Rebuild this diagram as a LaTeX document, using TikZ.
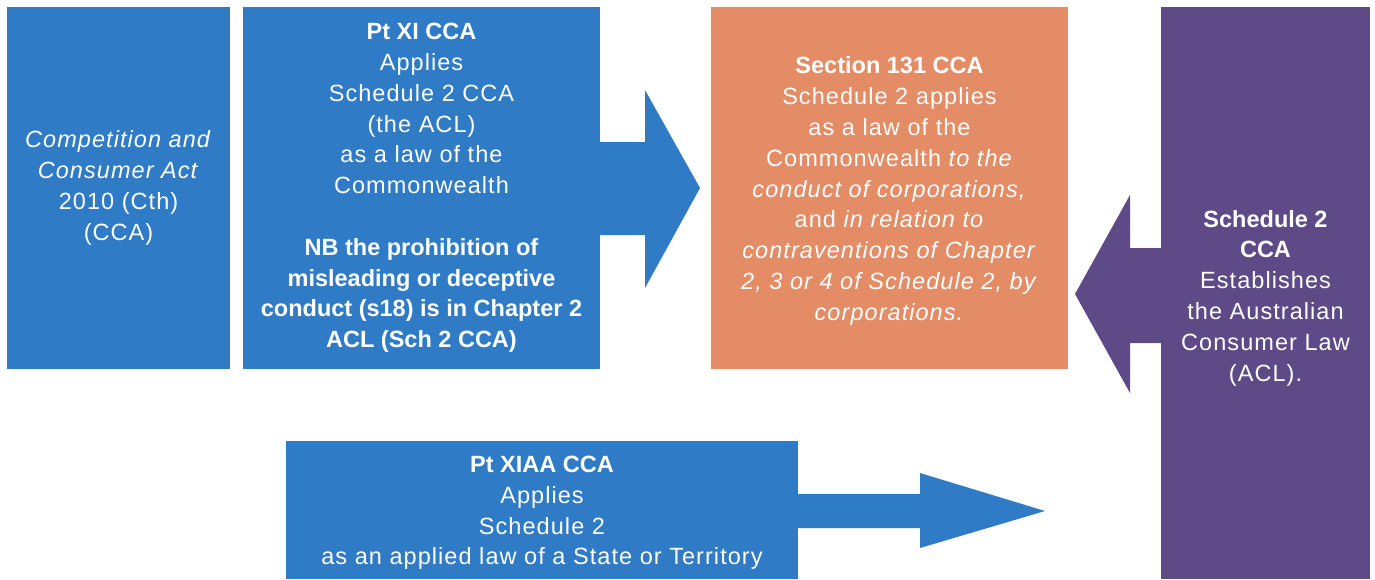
\documentclass[tikz,border=0pt]{standalone}
\usepackage{fontspec}
\setmainfont{Liberation Sans}[LetterSpace=4.5,BoldFeatures={LetterSpace=0}]
\begin{document}
\begin{tikzpicture}[x=1pt,y=-1pt,
  txt/.style={text=white,align=center,inner sep=0pt,font=\fontsize{23.5}{30.8}\selectfont},
]
\definecolor{cblue}{HTML}{2F7BC6}
\definecolor{corange}{HTML}{E38C65}
\definecolor{cpurple}{HTML}{5D4A86}
\useasboundingbox (0,0) rectangle (1375,579);
\fill[white] (0,0) rectangle (1375,579);
% boxes
\fill[cblue] (7,7) rectangle (230,369);
\fill[cblue] (243,7) rectangle (600,369);
\fill[cblue] (600,142) -- (645,142) -- (645,90) -- (700,188) -- (645,288) -- (645,235) -- (600,235) -- cycle;
\fill[corange] (711,7) rectangle (1068,369);
\fill[cpurple] (1161,7) rectangle (1370,579);
\fill[cpurple] (1161,248) -- (1130,248) -- (1130,195) -- (1075,294) -- (1130,393) -- (1130,343) -- (1161,343) -- cycle;
\fill[cblue] (286,441) rectangle (798,579);
\fill[cblue] (798,494) -- (920,494) -- (920,473) -- (1045,511) -- (920,548) -- (920,528) -- (798,528) -- cycle;
% texts
\node[txt] (cca) at (118.5,188) {\textit{Competition and}\\\textit{Consumer Act}\\2010 (Cth)\\(CCA)};
\node[txt] (ptxi) at (421.5,188) {\textbf{Pt XI CCA}\\Applies\\Schedule 2 CCA\\(the ACL)\\as a law of the\\Commonwealth\\[30.8pt]\textbf{NB the prohibition of}\\\textbf{misleading or deceptive}\\\textbf{conduct (s18) is in Chapter 2}\\\textbf{ACL (Sch 2 CCA)}};
\node[txt] (s131) at (889.5,191) {\textbf{Section 131 CCA}\\Schedule 2 applies\\as a law of the\\Commonwealth \textit{to the}\\\textit{conduct of corporations,}\\and \textit{in relation to}\\\textit{contraventions of Chapter}\\\textit{2, 3 or 4 of Schedule 2, by}\\\textit{corporations.}};
\node[txt] (sch2) at (1265.5,298) {\textbf{Schedule 2}\\\textbf{CCA}\\Establishes\\the Australian\\Consumer Law\\(ACL).};
\node[txt] (ptxiaa) at (542,513) {\textbf{Pt XIAA CCA}\\Applies\\Schedule 2\\as an applied law of a State or Territory};
\end{tikzpicture}
\end{document}
